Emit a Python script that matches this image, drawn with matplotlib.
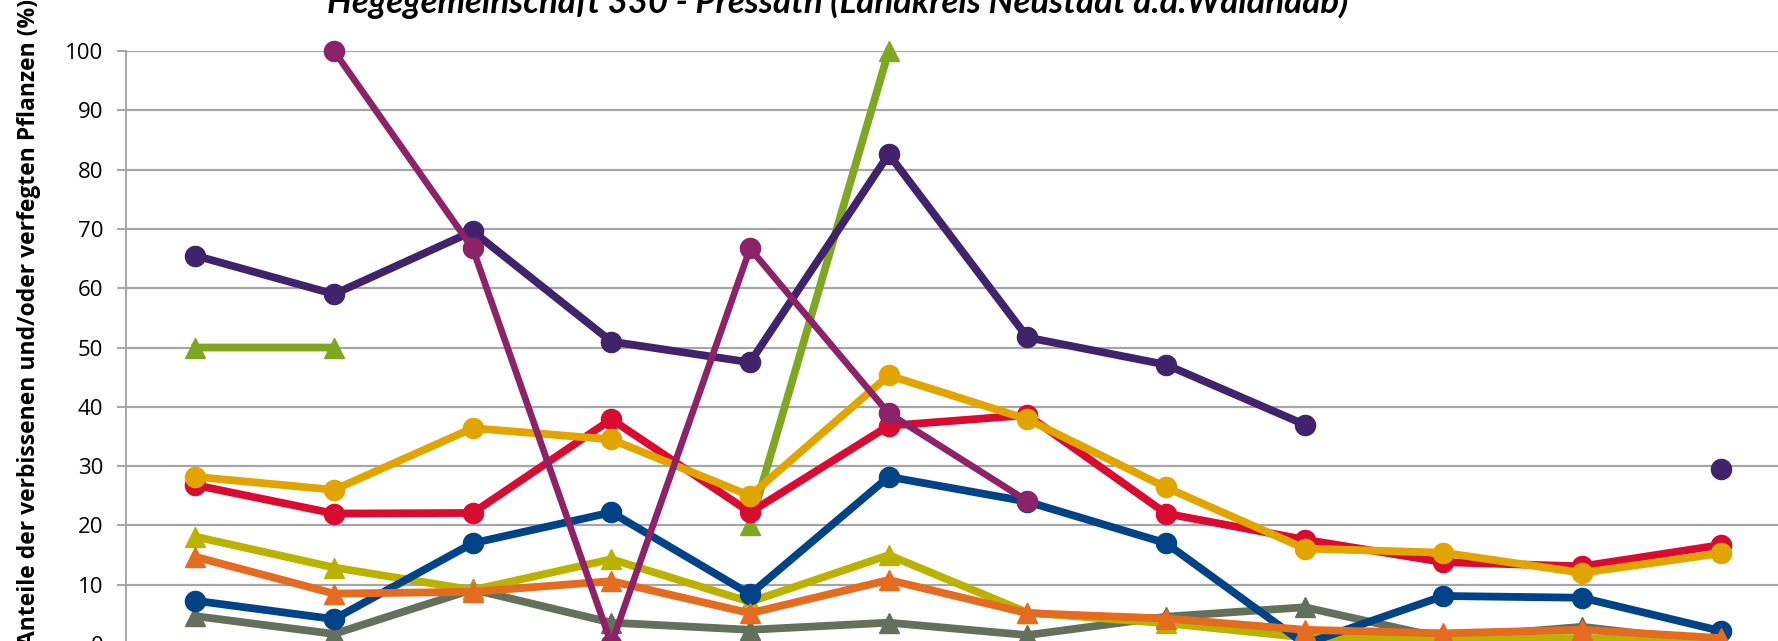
import numpy as np
import matplotlib

matplotlib.use("Agg")
import matplotlib.pyplot as plt  # noqa: E402

nan = np.nan

# survey points (x categories, labels are cut off in the reference)
positions = list(range(12))

grey_vals = [4.7, 1.7, 9.2, 3.6, 2.4, 3.6, 1.5, 4.6, 6.2, 1.0, 2.9, 0.2]
olive_vals = [18.1, 12.9, 9.1, 14.3, 7.1, 15.0, 5.3, 3.5, 1.1, 1.0, 1.0, 0.3]
blue_vals = [7.3, 4.2, 17.0, 22.2, 8.4, 28.2, 24.0, 17.0, 0.0, 8.1, 7.8, 2.2]
orange_vals = [14.7, 8.5, 8.8, 10.6, 5.2, 10.8, 5.2, 4.3, 2.4, 1.8, 2.4, 1.0]
green_vals = [50, 50, nan, nan, 20, 100, nan, nan, nan, nan, nan, nan]
red_vals = [26.8, 22.0, 22.1, 37.9, 22.2, 36.8, 38.6, 22.0, 17.6, 13.8, 13.1, 16.7]
gold_vals = [28.2, 26.0, 36.4, 34.5, 25.0, 45.3, 37.9, 26.4, 16.1, 15.4, 12.0, 15.3]
purple_vals = [65.5, 59.0, 69.6, 51.0, 47.5, 82.6, 51.7, 47.1, 37.0, nan, nan, 29.5]
magenta_vals = [nan, 100, 66.7, 0.0, 66.7, 38.9, 24.1, nan, nan, nan, nan, nan]

yticks = list(range(0, 101, 10))

series = [
    (grey_vals, "#646f5c", "^", 5.6),
    (olive_vals, "#bbb200", "^", 5.6),
    (blue_vals, "#004386", "o", 5.6),
    (orange_vals, "#e46b1f", "^", 5.6),
    (green_vals, "#7ea722", "^", 5.6),
    (red_vals, "#da0b31", "o", 5.6),
    (gold_vals, "#e2a500", "o", 5.6),
    (purple_vals, "#41236b", "o", 5.6),
    (magenta_vals, "#8c2369", "o", 4.8),
]

fig = plt.figure(figsize=(17.78, 6.41), dpi=100)
ax = fig.add_axes([0.0709, -0.0047, 0.9359, 0.9251])

for z, (vals, color, marker, lw) in enumerate(series):
    ax.plot(positions, vals, color=color, marker=marker, markersize=14.5,
            linewidth=lw, zorder=3 + z, clip_on=False)

ax.set_xlim(-0.5, 11.5)
ax.set_ylim(0, 100)
ax.set_yticks(yticks)
ax.set_xticks([])
ax.grid(True, axis="y", color="#a6a6a6", linewidth=1.6, zorder=0)
ax.set_axisbelow(True)
for side in ("top", "right", "bottom"):
    ax.spines[side].set_visible(False)
ax.spines["left"].set_color("#a6a6a6")
ax.spines["left"].set_linewidth(1.4)
ax.tick_params(axis="y", length=6.5, width=1.4, color="#a6a6a6", pad=10,
               labelsize=16)
for lab in ax.get_yticklabels():
    lab.set_family(["Open Sans", "DejaVu Sans"])

fig.text(0.0165, 0.497, "Anteile der verbissenen und/oder verfegten Pflanzen (%)",
         rotation=90, ha="center", va="center", fontsize=16.5, fontweight="bold",
         family=["Open Sans", "DejaVu Sans"])
fig.text(0.471, 0.98,
         "Hegegemeinschaft 330 - Pressath (Landkreis Neustadt a.d.Waldnaab)",
         ha="center", va="baseline", fontsize=25, fontweight="bold",
         style="italic", family=["Lato", "Liberation Sans", "DejaVu Sans"])

fig.savefig("out.png", dpi=100)
